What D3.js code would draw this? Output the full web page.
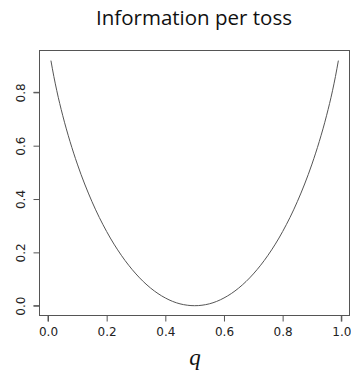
<!DOCTYPE html>
<html>
<head>
<meta charset="utf-8">
<script src="https://cdn.jsdelivr.net/npm/d3@7"></script>
<style>
  body { margin: 0; background: #fff; }
  svg { display: block; }
</style>
</head>
<body>
<div id="chart"></div>
<script>
// q values and information per toss (bits)
const qValues = [0.01, 0.02, 0.03, 0.05, 0.075, 0.1, 0.15, 0.2, 0.25, 0.3, 0.35, 0.4, 0.45, 0.5,
  0.55, 0.6, 0.65, 0.7, 0.75, 0.8, 0.85, 0.9, 0.925, 0.95, 0.97, 0.98, 0.99];
const infoValues = [0.919, 0.859, 0.806, 0.714, 0.616, 0.531, 0.390, 0.278, 0.189, 0.119, 0.066, 0.029, 0.007, 0.0,
  0.007, 0.029, 0.066, 0.119, 0.189, 0.278, 0.390, 0.531, 0.616, 0.714, 0.806, 0.859, 0.919];
const xTicks = [0, 0.2, 0.4, 0.6, 0.8, 1.0];
const yTicks = [0, 0.2, 0.4, 0.6, 0.8];

const width = 351, height = 375;
const box = { left: 39.5, top: 50.5, right: 349.5, bottom: 315.5 };

const svg = d3.select("#chart").append("svg")
  .attr("width", width)
  .attr("height", height);

const x = d3.scaleLinear().domain([0, 1]).range([48, 341.3]);
const y = d3.scaleLinear().domain([0, 1]).range([305.7, 39]);

// 標題
svg.append("text")
  .attr("x", 194)
  .attr("y", 25)
  .attr("text-anchor", "middle")
  .style("font-family", "'Open Sans', sans-serif")
  .style("font-size", "20.5px")
  .attr("fill", "#111")
  .text("Information per toss");

// 框
svg.append("rect")
  .attr("x", box.left)
  .attr("y", box.top)
  .attr("width", box.right - box.left)
  .attr("height", box.bottom - box.top)
  .attr("fill", "none")
  .attr("stroke", "#555")
  .attr("stroke-width", 1);

// x 軸
const xAxis = svg.append("g")
  .attr("transform", `translate(0, ${box.bottom})`)
  .call(d3.axisBottom(x).tickValues(xTicks).tickFormat(d3.format(".1f")).tickSize(6).tickPadding(6));
xAxis.select(".domain").attr("d", `M${x(0)},6V0H${x(1)}V6`).attr("stroke", "#555");

// y 軸
const yAxis = svg.append("g")
  .attr("transform", `translate(${box.left}, 0)`)
  .call(d3.axisLeft(y).tickValues(yTicks).tickFormat(d3.format(".1f")).tickSize(6).tickPadding(4));
yAxis.select(".domain").attr("d", `M-6,${y(0)}H0V${y(0.8)}H-6`).attr("stroke", "#555");
yAxis.selectAll(".tick text")
  .attr("transform", "rotate(-90)")
  .attr("x", 0)
  .attr("dx", 0)
  .attr("y", -14.5)
  .attr("dy", 0)
  .style("text-anchor", "middle");

svg.selectAll(".tick line").attr("stroke", "#555");
svg.selectAll(".tick text")
  .style("font-family", "'DejaVu Sans', sans-serif")
  .style("font-size", "12px")
  .attr("fill", "#222");

// 曲線
const data = qValues.map((q, i) => ({ q, v: infoValues[i] }));
const line = d3.line()
  .x((d) => x(d.q))
  .y((d) => y(d.v))
  .curve(d3.curveMonotoneX);

svg.append("path")
  .datum(data)
  .attr("fill", "none")
  .attr("stroke", "#555")
  .attr("stroke-width", 1)
  .attr("d", line);

// x 軸標籤
svg.append("text")
  .attr("x", 195)
  .attr("y", 365)
  .attr("text-anchor", "middle")
  .style("font-family", "'Liberation Serif', serif")
  .style("font-style", "italic")
  .style("font-size", "23px")
  .attr("fill", "#111")
  .text("q");
</script>
</body>
</html>
